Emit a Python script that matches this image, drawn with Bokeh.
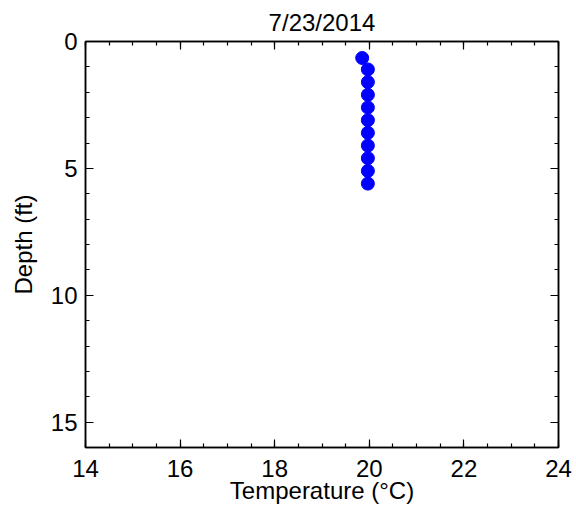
from bokeh.plotting import figure
from bokeh.models import Range1d, FixedTicker, LinearAxis
from bokeh.embed import file_html
from bokeh.resources import INLINE

title = "7/23/2014"
temperature = [19.85, 19.97, 19.97, 19.97, 19.97, 19.97, 19.97, 19.97, 19.97, 19.97, 19.97]
depth = [0.65, 1.1, 1.6, 2.1, 2.6, 3.1, 3.6, 4.1, 4.6, 5.1, 5.6]
x_ticks = [14, 16, 18, 20, 22, 24]
y_ticks = [0, 5, 10, 15]
x_minor = [14 + 0.5 * i for i in range(21)]
y_minor = list(range(0, 17))

FONT = "Liberation Sans"
FS = "24px"

p = figure(width=576, height=512, output_backend="svg", toolbar_location=None,
           x_range=Range1d(14, 24), y_range=Range1d(16, 0),
           min_border_left=85, min_border_right=18, min_border_top=40, min_border_bottom=65,
           title=title)
p.title.align = "center"
p.title.text_font = FONT
p.title.text_font_size = FS
p.title.text_font_style = "normal"
p.title.text_color = "black"
p.title.offset = 0
p.title.standoff = 12

p.xgrid.visible = False
p.ygrid.visible = False
p.outline_line_color = "black"
p.outline_line_width = 1.5
p.background_fill_color = "white"
p.border_fill_color = "white"

def style(ax, ticks, minor, labels=True):
    ax.ticker = FixedTicker(ticks=ticks, minor_ticks=minor)
    ax.major_tick_in = 8
    ax.major_tick_out = 0
    ax.minor_tick_in = 4
    ax.minor_tick_out = 0
    ax.axis_line_color = "black"
    ax.axis_line_width = 1.5
    ax.major_tick_line_color = "black"
    ax.minor_tick_line_color = "black"
    ax.major_tick_line_width = 1.2
    ax.minor_tick_line_width = 1.2
    ax.major_label_text_font = FONT
    ax.major_label_text_font_size = FS if labels else "1px"
    ax.major_label_text_color = "black" if labels else None
    ax.major_label_standoff = 8 if labels else 0
    ax.axis_label_text_font = FONT
    ax.axis_label_text_font_size = FS
    ax.axis_label_text_font_style = "normal"
    ax.axis_label_text_color = "black"
    ax.axis_label_standoff = 0

style(p.xaxis[0], x_ticks, x_minor)
style(p.yaxis[0], y_ticks, y_minor)
p.xaxis[0].axis_label = "Temperature (°C)"
p.xaxis[0].major_label_standoff = 12
p.xaxis[0].axis_label_standoff = -3
p.yaxis[0].axis_label = "Depth (ft)"
p.yaxis[0].axis_label_standoff = 11

top = LinearAxis()
style(top, x_ticks, x_minor, labels=False)
p.add_layout(top, "above")
right = LinearAxis()
style(right, y_ticks, y_minor, labels=False)
p.add_layout(right, "right")

p.scatter(temperature, depth, size=13, marker="circle", fill_color="#0000ff", line_color="#0000ff")

open("out.html", "w").write(file_html(p, INLINE))
